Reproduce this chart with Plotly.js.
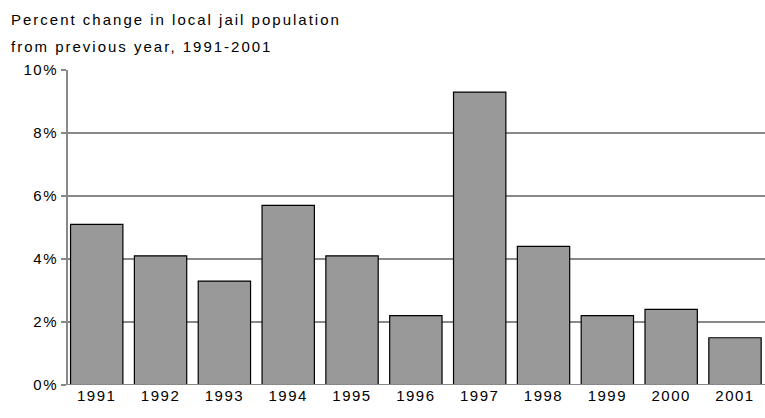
<!DOCTYPE html>
<html>
<head>
<script src="https://cdn.plot.ly/plotly-3.0.1.min.js"></script>
<style>
body{margin:0;} #chart{width:765px;height:418px;}
#chart text{letter-spacing:1.5px;}
#chart .annotation-text{letter-spacing:2px;}
</style>
</head>
<body>
<div id="chart"></div>
<script>
// percent change in local jail population
const years = ['1991','1992','1993','1994','1995','1996','1997','1998','1999','2000','2001'];
const change = [5.1, 4.1, 3.3, 5.7, 4.1, 2.2, 9.3, 4.4, 2.2, 2.4, 1.5];
const tickVals = [0, 2, 4, 6, 8, 10];
const tickText = ['0%', '2%', '4%', '6%', '8%', '10%'];

const trace = {
    x: years.map((y, i) => i),
    y: change,
    type: 'bar',
    width: 0.82,
    marker: {color: '#999999', line: {color: '#000000', width: 1.2}},
    hoverinfo: 'none'
};

const layout = {
    width: 765, height: 418,
    showlegend: false,
    paper_bgcolor: '#ffffff', plot_bgcolor: '#ffffff',
    font: {family: 'Liberation Sans, Arial, sans-serif', size: 15, color: '#000'},
    margin: {l: 68, r: 0, t: 70, b: 33, pad: 0},
    annotations: [
        {text: 'Percent change in local jail population', xref: 'paper', yref: 'paper',
         x: -0.085, y: 1.159, xanchor: 'left', yanchor: 'middle', align: 'left', showarrow: false, font: {size: 15}},
        {text: 'from previous year, 1991-2001', xref: 'paper', yref: 'paper',
         x: -0.085, y: 1.076, xanchor: 'left', yanchor: 'middle', align: 'left', showarrow: false, font: {size: 15}}
    ],
    xaxis: {
        range: [-0.45, 10.47],
        tickvals: years.map((y, i) => i), ticktext: years,
        showgrid: false, zeroline: false, showline: false, ticks: ''
    },
    yaxis: {
        range: [0, 10], tickvals: tickVals, ticktext: tickText,
        showgrid: true, gridcolor: '#888888', gridwidth: 2,
        zeroline: false, showline: true, linecolor: '#888888', linewidth: 2,
        ticks: 'outside', ticklen: 5, tickcolor: '#888888', tickwidth: 2
    },
    shapes: [{type: 'line', xref: 'paper', yref: 'y', x0: 0, x1: 1, y0: 0, y1: 0,
              line: {color: '#888888', width: 2}}]
};

Plotly.newPlot('chart', [trace], layout, {displayModeBar: false, staticPlot: true});
</script>
</body>
</html>
